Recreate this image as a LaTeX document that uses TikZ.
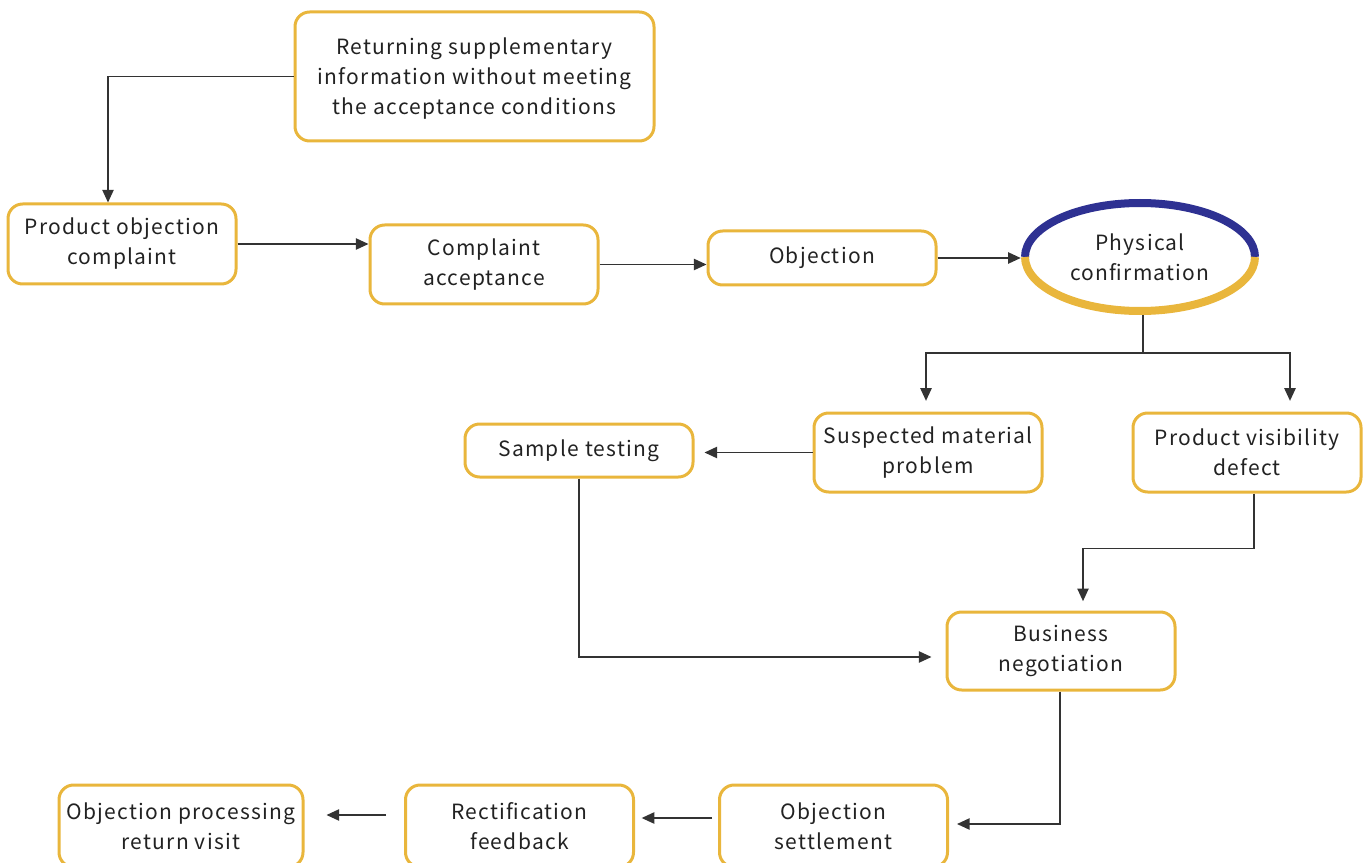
\documentclass[tikz,border=0pt]{standalone}
\usepackage{fontspec}
\setmainfont{Noto Sans CJK SC}[LetterSpace=6]
\usetikzlibrary{arrows.meta,shapes.geometric}
\definecolor{boxy}{HTML}{E9B63C}
\definecolor{ellb}{HTML}{2E3192}
\definecolor{linec}{HTML}{333333}
\definecolor{txt}{HTML}{222222}
\tikzset{
  box/.style={draw=boxy, line width=2.25pt, rounded corners=11pt, fill=white,
    minimum width=171pt, minimum height=59.25pt, align=center, inner sep=0pt,
    text=txt, font=\fontsize{15.75pt}{22.5pt}\selectfont},
  conn/.style={draw=linec, line width=1.1pt},
  arr/.style={conn, -{Triangle[length=9.5pt,width=8.5pt]}},
}
\begin{document}
\begin{tikzpicture}[x=0.75pt,y=-0.75pt]
\clip (0,0) rectangle (1372,863);
\useasboundingbox (0,0) rectangle (1372,863);
\node[box, minimum width=269.25pt, minimum height=96.75pt, text depth=-3pt] (b1) at (474.5,76.5)
  {Returning supplementary\\information without meeting\\the acceptance conditions};
\node[box, minimum height=60pt] (b2) at (122,244) {Product objection\\complaint};
\node[box] (b3) at (484,264.5) {Complaint\\acceptance};
\node[box, minimum height=40.5pt] (b4) at (822,258) {Objection};
\node[ellipse, minimum width=178.5pt, minimum height=87pt, inner sep=0pt, align=center,
  text=txt, font=\fontsize{15.75pt}{22.5pt}\selectfont] (phys) at (1140,257) {Physical\\confirmation};
\draw[ellb, line width=6pt] (1025,257) arc[start angle=180, end angle=0, x radius=86.25pt, y radius=40.5pt];
\draw[boxy, line width=6pt] (1025,257) arc[start angle=180, end angle=360, x radius=86.25pt, y radius=40.5pt];
\node[box] (b6) at (928,452.5) {Suspected material\\problem};
\node[box] (b7) at (1247,452.5) {Product visibility\\defect};
\node[box, minimum height=39.75pt] (b8) at (579,450.5) {Sample testing};
\node[box, minimum height=58.5pt] (b9) at (1061,651) {Business\\negotiation};
\node[box, minimum height=61.5pt] (b10) at (833.5,826) {Objection\\settlement};
\node[box, minimum height=61.5pt] (b11) at (519.5,826) {Rectification\\feedback};
\node[box, minimum width=183pt, minimum height=61.5pt] (b12) at (181,826) {Objection processing\\return visit};
% connectors
\draw[arr] (b1.west) -| ([xshift=-10.5pt]b2.north);
\draw[arr] (b2.east) -- (b2.east -| b3.west);
\draw[arr] (b3.east) -- (b3.east -| b4.west);
\draw[arr] (b4.east) -- (b4.east -| phys.west);
\coordinate (split) at (1143,353);
\draw[conn] ([xshift=2.25pt]phys.south) -- (split);
\draw[arr, shorten >=8pt] (split) -| ([xshift=-1.5pt]b6.north);
\draw[arr, shorten >=8pt] (split) -| ([xshift=32.25pt]b7.north);
\draw[arr, shorten >=7.5pt] (b6.west) -- (b6.west -| b8.east);
\draw[arr, shorten >=10.5pt] (b8.south) |- ([yshift=-4.5pt]b9.west);
\draw[arr, shorten >=7pt] ([xshift=5.25pt]b7.south) -- ++(0,55) -| ([xshift=16.5pt]b9.north);
\draw[arr, shorten >=6pt] ([xshift=-0.75pt]b9.south) |- ([yshift=1.5pt]b10.east);
\draw[arr, shorten <=4.5pt, shorten >=5pt] ([yshift=6pt]b10.west) -- ([yshift=6pt]b10.west -| b11.east);
\draw[arr, shorten <=13.5pt, shorten >=16.5pt] ([yshift=8.25pt]b11.west) -- ([yshift=8.25pt]b11.west -| b12.east);
\end{tikzpicture}
\end{document}
